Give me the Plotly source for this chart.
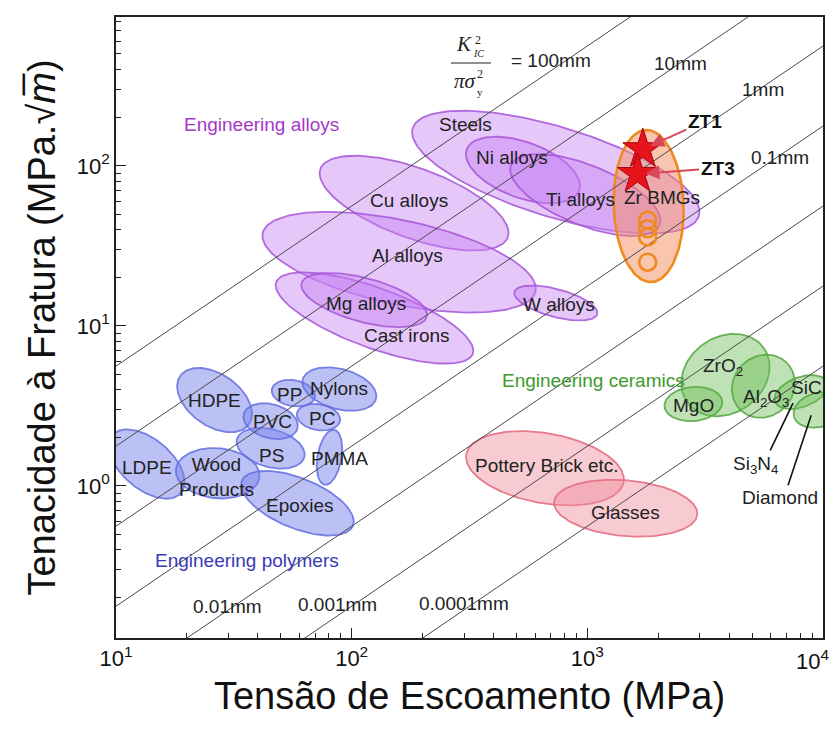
import math
import numpy as np
import plotly.graph_objects as go

# Axis windows (log10 of yield strength in MPa, log10 of toughness in MPa·m^0.5)
X_RANGE = (1.0, 4.0)
Y_RANGE = (-0.95, 2.93)

# ---- Material envelopes: centre strength (MPa), centre toughness (MPa√m),
#      semi-axes (decades of strength, as drawn) and tilt (deg, as drawn)
alloy_names = ["Steels", "Cu alloys", "Al alloys", "Cast irons", "Mg alloys",
               "W alloys", "Ni alloys", "Ti alloys"]
alloy_sigma = [735, 184, 159, 125, 113, 735, 533, 980]
alloy_k = [91.4, 58.5, 25.0, 11.2, 14.5, 13.9, 94.2, 65.7]
alloy_major = [0.635, 0.423, 0.592, 0.444, 0.275, 0.182, 0.254, 0.34]
alloy_minor = [0.19, 0.148, 0.178, 0.127, 0.093, 0.059, 0.118, 0.127]
alloy_tilt = [-17, -20, -12, -20, -15, -15, -20, -22]

bmg_sigma, bmg_k, bmg_major, bmg_minor, bmg_tilt = 1820, 56.1, 0.322, 0.148, 92

polymer_names = ["HDPE", "LDPE", "Wood", "Epoxies", "PS", "PVC", "PC", "PP",
                 "Nylons", "PMMA"]
polymer_sigma = [26.2, 13.5, 27.0, 58.9, 45.3, 45.3, 72.3, 56.6, 88.7, 80.5]
polymer_k = [3.44, 1.37, 1.20, 0.78, 1.72, 2.54, 2.69, 3.80, 4.03, 1.51]
polymer_major = [0.178, 0.19, 0.178, 0.254, 0.148, 0.118, 0.093, 0.093, 0.161, 0.118]
polymer_minor = [0.11, 0.106, 0.106, 0.106, 0.08, 0.072, 0.055, 0.055, 0.085, 0.051]
polymer_tilt = [-35, -40, -5, -22, -15, -15, -10, -10, -15, 80]

ceramic_names = ["ZrO2", "MgO", "Al2O3", "SiC", "Diamond"]
ceramic_sigma = [3855, 2818, 5585, 8070, 9530]
ceramic_k = [4.93, 3.25, 4.20, 3.86, 2.98]
ceramic_major = [0.199, 0.123, 0.14, 0.118, 0.106]
ceramic_minor = [0.161, 0.072, 0.127, 0.063, 0.072]
ceramic_tilt = [35, 5, 45, 20, 15]

glass_names = ["Pottery", "Glasses"]
glass_sigma = [661, 1455]
glass_k = [1.29, 0.726]
glass_major = [0.339, 0.305]
glass_minor = [0.148, 0.118]
glass_tilt = [-10, -5]

# Measured Zr-based BMG samples
zt_names = ["ZT1", "ZT3"]
zt_sigma = [1720, 1633]
zt_k = [127, 88.9]
bmg_ref_sigma = [1803, 1803, 1803, 1803]
bmg_ref_k = [45.8, 40.5, 36.0, 25.0]

# Process-zone size lines  K_IC^2 / (pi sigma_y^2) = c   (c in metres)
zone_c = [0.1, 0.01, 0.001, 1e-4, 1e-5, 1e-6, 1e-7]
zone_labels = ["= 100mm", "10mm", "1mm", "0.1mm", "0.01mm", "0.001mm", "0.0001mm"]
zone_label_sigma = [700, 2485, 5585, 6600, 29.8, 87.1, 300]
zone_label_k = [458, 439, 298, 113, 0.177, 0.182, 0.185]

x_ticks = [10, 100, 1000, 10000]
x_ticktext = ["10<sup>1</sup>", "10<sup>2</sup>", "10<sup>3</sup>", "10<sup>4</sup>"]
y_ticks = [1, 10, 100]
y_ticktext = ["10<sup>0</sup>", "10<sup>1</sup>", "10<sup>2</sup>"]

# ---- figure geometry
W, H = 833, 733
M = dict(l=116, r=8, t=17, b=95)
plot_w = W - M["l"] - M["r"]
plot_h = H - M["t"] - M["b"]
ASPECT = (plot_w / (X_RANGE[1] - X_RANGE[0])) / (plot_h / (Y_RANGE[1] - Y_RANGE[0]))

FONT = "Liberation Sans, Arial, sans-serif"
SERIF = "Liberation Serif, Times New Roman, serif"


def envelope(sig, k, a, b, tilt):
    t = np.linspace(0, 2 * np.pi, 160)
    th = np.radians(tilt)
    u, v = a * np.cos(t), b * np.sin(t)
    dx = u * np.cos(th) - v * np.sin(th)
    dy = (u * np.sin(th) + v * np.cos(th)) * ASPECT
    return 10 ** (np.log10(sig) + dx), 10 ** (np.log10(k) + dy)


fig = go.Figure()


def add_env(sig, k, a, b, tilt, fill, edge, width=1.8):
    xs, ys = envelope(sig, k, a, b, tilt)
    fig.add_trace(go.Scatter(x=xs, y=ys, mode="lines", fill="toself",
                             fillcolor=fill, line=dict(color=edge, width=width),
                             hoverinfo="skip", showlegend=False))


PURPLE_F, PURPLE_E = "rgba(200,130,245,0.45)", "rgba(165,85,215,0.85)"
BLUE_F, BLUE_E = "rgba(120,130,235,0.5)", "rgba(100,110,225,0.85)"
PINK_F, PINK_E = "rgba(240,140,155,0.45)", "rgba(228,110,130,0.9)"
GREEN_F, GREEN_E = "rgba(110,190,90,0.45)", "rgba(90,170,70,0.9)"
ORANGE = "#ee8a1e"

for i in range(len(alloy_names)):
    add_env(alloy_sigma[i], alloy_k[i], alloy_major[i], alloy_minor[i], alloy_tilt[i],
            PURPLE_F, PURPLE_E)
add_env(bmg_sigma, bmg_k, bmg_major, bmg_minor, bmg_tilt,
        "rgba(245,140,95,0.5)", ORANGE, 2.6)
for i in range(len(polymer_names)):
    add_env(polymer_sigma[i], polymer_k[i], polymer_major[i], polymer_minor[i],
            polymer_tilt[i], BLUE_F, BLUE_E)
for i in range(len(glass_names)):
    add_env(glass_sigma[i], glass_k[i], glass_major[i], glass_minor[i], glass_tilt[i],
            PINK_F, PINK_E)
for i in range(len(ceramic_names)):
    add_env(ceramic_sigma[i], ceramic_k[i], ceramic_major[i], ceramic_minor[i],
            ceramic_tilt[i], GREEN_F, GREEN_E)

# guide lines of constant process-zone size
sig_line = np.array([10.0, 1e4])
for c in zone_c:
    fig.add_trace(go.Scatter(x=sig_line, y=sig_line * math.sqrt(math.pi * c),
                             mode="lines", line=dict(color="#4a4a4a", width=1),
                             hoverinfo="skip", showlegend=False))

# BMG reference data and the two measured alloys
fig.add_trace(go.Scatter(x=bmg_ref_sigma, y=bmg_ref_k, mode="markers",
                         marker=dict(symbol="circle-open", size=17, color=ORANGE,
                                     line=dict(color=ORANGE, width=2.6)),
                         hoverinfo="skip", showlegend=False))
fig.add_trace(go.Scatter(x=zt_sigma, y=zt_k, mode="markers",
                         marker=dict(symbol="star", size=30, color="#e8141c",
                                     line=dict(color="#a80010", width=1)),
                         hoverinfo="skip", showlegend=False))

# fraction bar of the K_IC^2 / (pi sigma_y^2) formula
fig.add_trace(go.Scatter(x=[264, 390], y=[439, 439], mode="lines",
                         line=dict(color="#222", width=1.2),
                         hoverinfo="skip", showlegend=False))

ann = []


def label(text, sig, k, size=19, color="#222", family=FONT, **kw):
    d = dict(x=math.log10(sig), y=math.log10(k), text=text, showarrow=False,
             font=dict(family=family, size=size, color=color), xanchor="center",
             yanchor="middle")
    d.update(kw)
    ann.append(d)


alloy_label_pos = {
    "Steels": (303, 180), "Ni alloys": (479, 112), "Ti alloys": (938, 62),
    "Cu alloys": (175, 61), "Al alloys": (172, 27.7), "Mg alloys": (115, 13.9),
    "Cast irons": (172, 8.76), "W alloys": (757, 13.7),
}
for name, (s, k) in alloy_label_pos.items():
    label(name, s, k)
label("Zr BMGs", 2065, 63)
label("Engineering alloys", 41.5, 182, color="#a437c8")

polymer_label_pos = {
    "HDPE": (26.2, 3.44), "PP": (54.5, 3.75), "Nylons": (88.7, 4.08),
    "PVC": (46.1, 2.51), "PC": (74.5, 2.65), "PS": (45.7, 1.56),
    "PMMA": (88.7, 1.49), "LDPE": (13.5, 1.31), "Wood<br>Products": (26.6, 1.13),
    "Epoxies": (60.1, 0.759),
}
for name, (s, k) in polymer_label_pos.items():
    label(name, s, k)
label("Engineering polymers", 35.8, 0.344, color="#3a3ab4")

label("Pottery Brick etc.", 673, 1.35)
label("Glasses", 1455, 0.686)

label("Engineering ceramics", 1064, 4.58, color="#3c9a2c")
label("ZrO<sub>2</sub>", 3776, 5.53)
label("MgO", 2818, 3.20)
label("Al<sub>2</sub>O<sub>3</sub>", 5740, 3.54)
label("SiC", 8470, 4.15)
label("Si<sub>3</sub>N<sub>4</sub>", 5165, 1.35)
label("Diamond", 6580, 0.851)

# leader lines for Si3N4 and Diamond
for (s0, k0, s1, k1) in [(5970, 1.67, 7460, 3.29), (7110, 1.01, 8910, 2.77)]:
    fig.add_trace(go.Scatter(x=[s0, s1], y=[k0, k1], mode="lines",
                             line=dict(color="#111", width=1.6),
                             hoverinfo="skip", showlegend=False))

for i, txt in enumerate(zone_labels):
    label(txt, zone_label_sigma[i], zone_label_k[i])

# formula K_IC^2 / (pi sigma_y^2)
label("<i>K</i>", 300, 575, size=21, family=SERIF)
label("2", 345, 610, size=12, family=SERIF)
label("<i>IC</i>", 345, 500, size=10, family=SERIF)
label("<i>πσ</i>", 305, 340, size=21, family=SERIF)
label("2", 350, 375, size=12, family=SERIF)
label("y", 350, 290, size=11, family=SERIF)

# sample call-outs
for name, s, k, ax, ay in [("ZT1", zt_sigma[0], zt_k[0], 62, -28),
                           ("ZT3", zt_sigma[1], zt_k[1], 80, -6)]:
    ann.append(dict(x=math.log10(s), y=math.log10(k), text="<b>%s</b>" % name,
                    showarrow=True, ax=ax, ay=ay, arrowhead=2, arrowsize=1.4,
                    arrowwidth=2, arrowcolor="#d9485a", standoff=8,
                    font=dict(family=FONT, size=19, color="#111")))

# last x tick label sits on the page edge, so it is placed by hand
ann.append(dict(x=math.log10(x_ticks[-1]), y=0, xref="x", yref="paper",
                text=x_ticktext[-1], showarrow=False, xanchor="right",
                yanchor="top", yshift=-6, xshift=8,
                font=dict(family=FONT, size=22, color="#111")))


def minor_ticks(lo, hi):
    out = []
    for e in range(lo, hi):
        for m in range(2, 10):
            out.append(m * 10 ** e)
    return out


axis_common = dict(type="log", showgrid=False, zeroline=False, showline=True,
                   linecolor="#222", linewidth=1.5, mirror=True, ticks="inside",
                   ticklen=10, tickwidth=1.3, tickcolor="#222",
                   tickfont=dict(family=FONT, size=22, color="#111"))

fig.update_layout(
    width=W, height=H, margin=M, paper_bgcolor="white", plot_bgcolor="white",
    annotations=ann,
    xaxis=dict(range=list(X_RANGE), tickvals=x_ticks[:-1], ticktext=x_ticktext[:-1],
               minor=dict(ticks="inside", ticklen=5, tickcolor="#222",
                          tickvals=minor_ticks(1, 4)),
               title=dict(text="Tensão de Escoamento (MPa)", standoff=12,
                          font=dict(family=FONT, size=38, color="#111")),
               **axis_common),
    yaxis=dict(range=list(Y_RANGE), tickvals=y_ticks, ticktext=y_ticktext,
               minor=dict(ticks="inside", ticklen=5, tickcolor="#222",
                          tickvals=minor_ticks(-1, 3)),
               title=dict(text="Tenacidade à Fratura (MPa.√<i>m̅</i>)", standoff=10,
                          font=dict(family=FONT, size=38, color="#111")),
               **axis_common),
)

fig.write_html("out.html")
